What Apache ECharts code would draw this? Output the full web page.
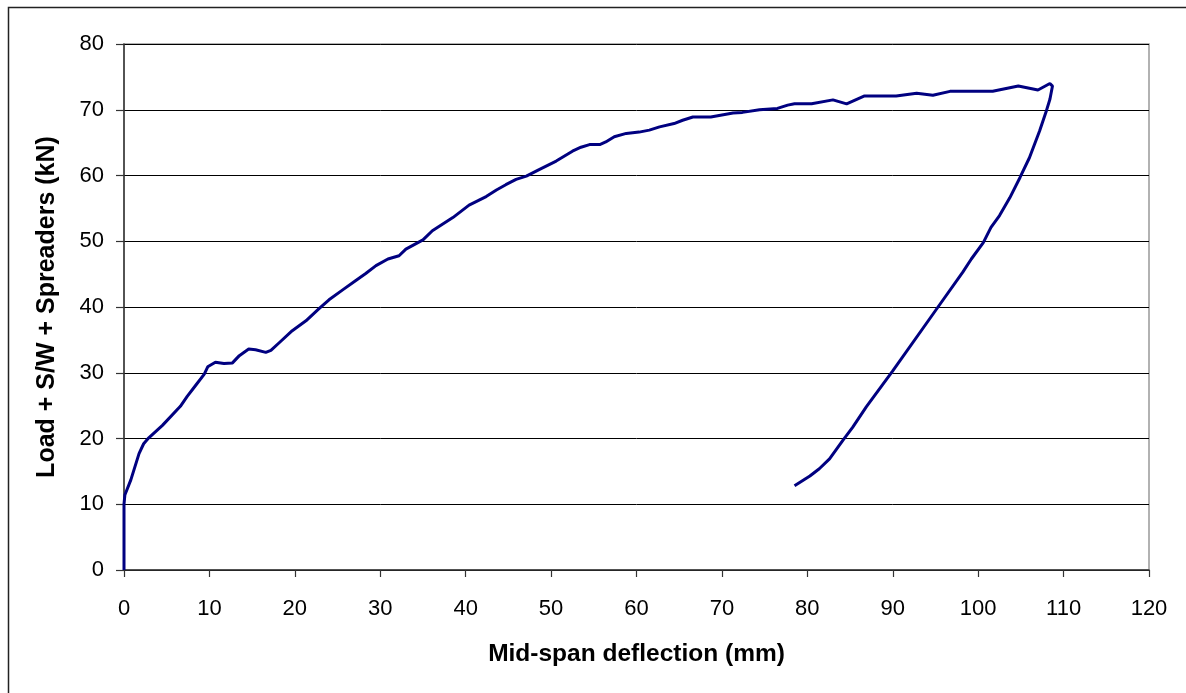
<!DOCTYPE html>
<html>
<head>
<meta charset="utf-8">
<script src="https://cdn.jsdelivr.net/npm/echarts@6/dist/echarts.min.js"></script>
<style>
html,body{margin:0;padding:0;background:#fff;}
#c{width:1186px;height:693px;}
</style>
</head>
<body>
<div id="c"></div>
<script>
const deflection = [0, 0, 0.1, 0.8, 1.76, 2.3, 2.9, 4.5, 6.6, 7.4, 8.4, 9.4, 9.8, 10.7, 11.7, 12.7, 13.5, 14.6, 15.4, 16.6, 17.2, 18.2, 19.7, 21.3, 22.8, 24.0, 25.6, 27.1, 28.3, 29.5, 30.9, 32.2, 33.0, 35.0, 36.1, 38.5, 40.4, 42.4, 43.6, 44.7, 45.9, 47.1, 48.6, 50.6, 52.5, 53.5, 54.5, 55.7, 56.4, 57.4, 58.8, 60.3, 61.5, 62.7, 64.4, 65.4, 66.6, 68.7, 71.3, 72.4, 74.4, 76.5, 77.7, 78.5, 80.5, 83.0, 84.6, 86.7, 90.4, 92.8, 94.7, 96.7, 101.7, 104.7, 107.0, 108.4, 108.7, 108.4, 108.0, 107.2, 106.0, 104.9, 103.7, 102.5, 101.5, 100.6, 99.2, 98.2, 95.3, 90.0, 86.9, 85.3, 84.2, 82.6, 81.4, 80.3, 78.5];
const load = [0, 10, 11.4, 13.7, 17.7, 19.2, 20.1, 22, 24.9, 26.4, 28.1, 29.8, 30.9, 31.6, 31.4, 31.5, 32.6, 33.6, 33.5, 33.1, 33.4, 34.6, 36.4, 37.9, 39.7, 41.1, 42.6, 44.0, 45.1, 46.3, 47.3, 47.8, 48.8, 50.2, 51.6, 53.6, 55.5, 56.8, 57.8, 58.6, 59.4, 59.9, 60.9, 62.2, 63.7, 64.3, 64.7, 64.7, 65.1, 65.9, 66.4, 66.6, 66.9, 67.4, 67.9, 68.4, 68.9, 68.9, 69.5, 69.6, 70.0, 70.2, 70.7, 70.9, 70.9, 71.5, 70.9, 72.1, 72.1, 72.5, 72.2, 72.8, 72.8, 73.6, 73.0, 74.0, 73.6, 71.6, 69.9, 66.8, 62.7, 59.7, 56.6, 53.9, 52.1, 49.8, 47.3, 45.3, 40.0, 30.3, 24.8, 21.7, 19.8, 16.9, 15.4, 14.3, 12.8];
const xTitle = 'Mid-span deflection (mm)';
const yTitle = 'Load + S/W + Spreaders (kN)';

const pts = deflection.map((d, i) => [d, load[i]]);
const chart = echarts.init(document.getElementById('c'));
const font = 'Liberation Sans, Arial, sans-serif';
chart.setOption({
  animation: false,
  backgroundColor: '#fff',
  graphic: [{
    type: 'rect', left: 6, top: 5, silent: true, z: -1,
    shape: {width: 1200, height: 700},
    style: {fill: 'none', stroke: '#222', lineWidth: 1.5}
  }],
  grid: {left: 124, right: 37, top: 44, bottom: 123, show: true, borderColor: '#999', borderWidth: 1.5, backgroundColor: 'transparent'},
  xAxis: {
    type: 'value', min: 0, max: 120, interval: 10,
    name: xTitle, nameLocation: 'middle', nameGap: 72,
    nameTextStyle: {fontFamily: font, fontWeight: 'bold', fontSize: 24.5, color: '#000'},
    axisLine: {show: true, onZero: false, lineStyle: {color: '#333', width: 1.5}},
    axisTick: {show: true, length: 7, inside: false, lineStyle: {color: '#333', width: 1.2}},
    axisLabel: {fontFamily: font, fontSize: 22, color: '#000', margin: 28},
    splitLine: {show: false}
  },
  yAxis: {
    type: 'value', min: 0, max: 80, interval: 10,
    name: yTitle, nameLocation: 'middle', nameGap: 64, nameRotate: 90,
    nameTextStyle: {fontFamily: font, fontWeight: 'bold', fontSize: 25, color: '#000'},
    axisLine: {show: true, onZero: false, lineStyle: {color: '#333', width: 1.5}},
    axisTick: {show: true, length: 8, inside: false, lineStyle: {color: '#333', width: 1.2}},
    axisLabel: {fontFamily: font, fontSize: 22, color: '#000', margin: 20},
    splitLine: {show: true, lineStyle: {color: '#000', width: 1}}
  },
  series: [{
    type: 'line', data: pts, showSymbol: false, smooth: false,
    lineStyle: {color: '#000080', width: 3}, clip: false
  }]
});
</script>
</body>
</html>
